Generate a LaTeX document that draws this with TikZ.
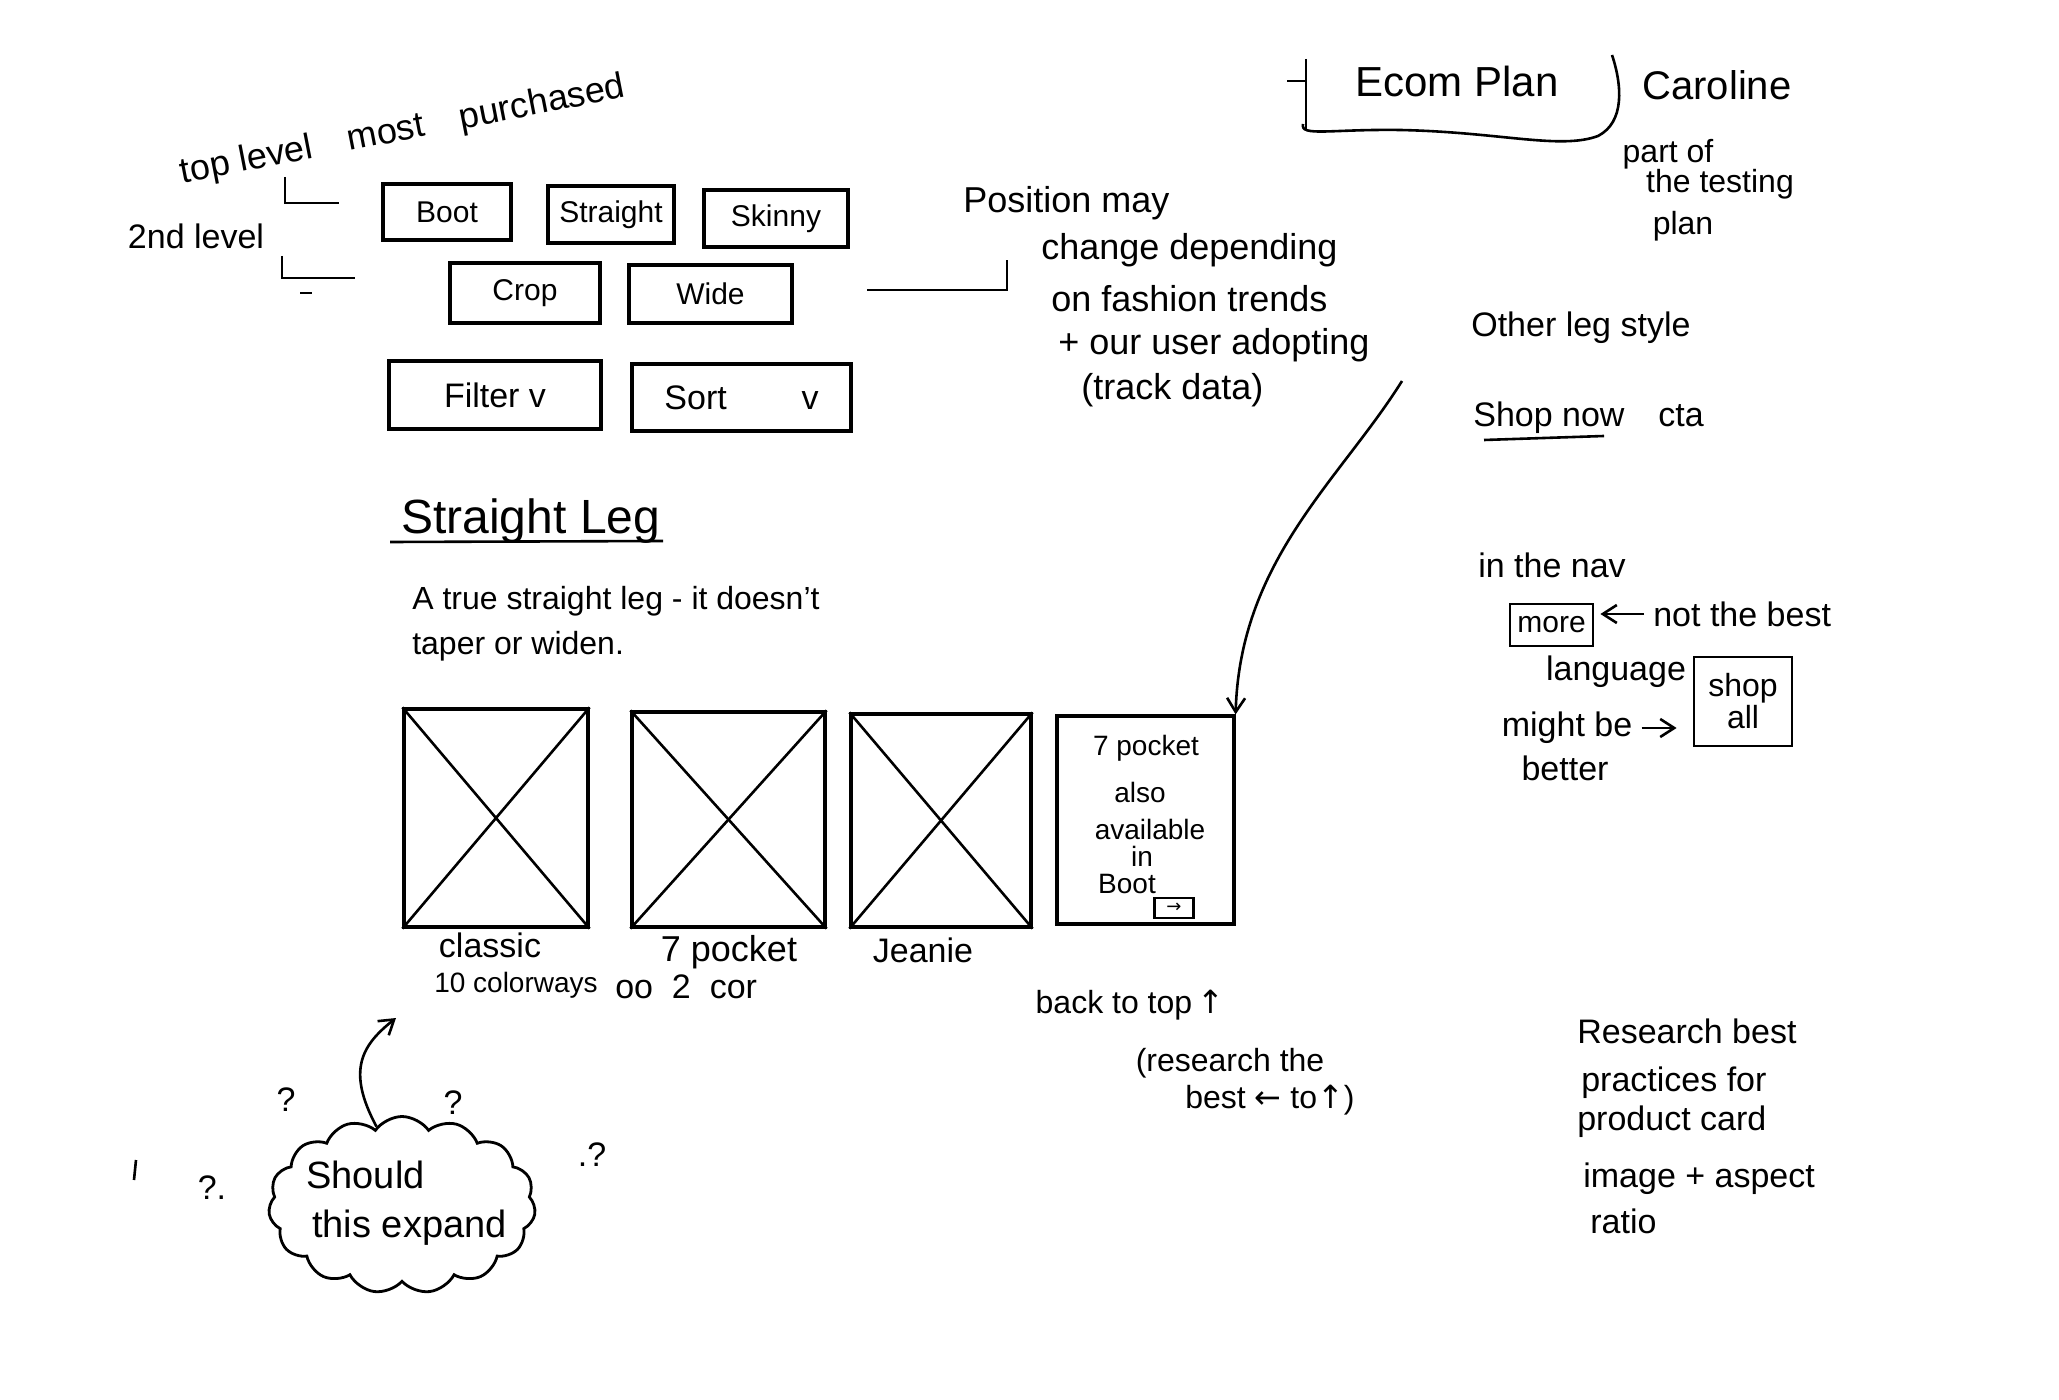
\documentclass[tikz,border=0pt]{standalone}
\usepackage{fontspec}
\setmainfont{Liberation Sans}
\newfontfamily\symf{DejaVu Sans}
\usetikzlibrary{shapes.symbols,arrows.meta}
\newcommand{\fs}[1]{\fontsize{#1}{#1}\selectfont}
\begin{document}
\begin{tikzpicture}[x=0.5pt,y=-0.5pt,line width=1.3pt,
  every node/.style={inner sep=0pt,font=\fs{17}},
  btn/.style={draw,line width=1.6pt,font=\fs{15}},
  img/.style={draw,line width=1.6pt},
  note/.style={anchor=west},
  tip/.style={-{Straight Barb[length=7pt,width=9pt]}}]
\useasboundingbox (0,0) rectangle (2059,1400);
\fill[white] (0,0) rectangle (2059,1400);

% top-left annotations
\node[rotate=11,font=\fs{18}] (toplevel) at (403,131) {top level\quad most\quad purchased};
\node (second) at (196,236) {2nd level};
\draw (285,177) |- (339,203);
\draw (282,256) |- (355,278);
\draw (300,293) -- (312,293);

% category buttons
\node[btn,minimum width=64pt,minimum height=28pt] (boot) at (447,212) {Boot};
\node[btn,minimum width=63pt,minimum height=28.5pt] (straight) at (611,214.5) {Straight};
\node[btn,minimum width=72pt,minimum height=28.5pt] (skinny) at (776,218.5) {Skinny};
\node[btn,minimum width=75pt,minimum height=30pt] (crop) at (525,293) {Crop};
\node[btn,minimum width=81.5pt,minimum height=29pt] (wide) at (710.5,294) {Wide};
\node[btn,minimum width=106pt,minimum height=34pt,font=\fs{17}] (filter) at (495,395) {Filter v};
\node[btn,minimum width=109.5pt,minimum height=33.5pt,font=\fs{17}] (sort) at (741.5,397.5) {Sort\hspace{2.2em}v};

% position note
\coordinate (wb1) at (867,290);
\coordinate (wb2) at (1007,260);
\draw (wb1) -| (wb2);
\node[note,font=\fs{18}] (pos1) at (962,203) {Position may};
\node[note,font=\fs{18}] (pos2) at (1040,250) {change depending};
\node[note,font=\fs{18}] (pos3) at (1050,299) {on fashion trends};
\node[note,font=\fs{18}] (pos4) at (1057,345) {+ our user adopting};
\node[note,font=\fs{18}] (pos5) at (1080,390) {(track data)};
\coordinate (arrstart) at (1402,381);

% Ecom plan
\node[font=\fs{21}] (ecom) at (1457,81) {Ecom Plan};
\coordinate (e1) at (1306,59);
\coordinate (e2) at (1306,131);
\draw (e1) -- (e2);
\draw (1287,81) -- (1306,81);
\draw (1303,124) .. controls (1300,137) and (1330,129) .. (1400,130)
      .. controls (1500,132) and (1560,150) .. (1598,136)
      .. controls (1625,122) and (1622,85) .. (1612,55);
\node[font=\fs{20}] (caroline) at (1717,85) {Caroline};
\node[font=\fs{16}] (part1) at (1668,154) {part of};
\node[font=\fs{16}] (part2) at (1720,184) {the testing};
\node[font=\fs{16}] (part3) at (1683,226) {plan};

% right notes
\node[note] (other) at (1470,328) {Other leg style};
\node[note] (shopnow) at (1472,418) {Shop now\quad cta};
\draw (1484,440) -- (1604,436);
\node[note] (nav) at (1477,565) {in the nav};
\node[draw,line width=1.4pt,minimum width=41.5pt,minimum height=21pt,font=\fs{15}] (more) at (1551.5,625) {more};
\node[note] (notbest) at (1652,614) {not the best};
\node (language) at (1616,672) {language};
\node (might) at (1567,728) {might be};
\node (better) at (1565,768) {better};
\node[draw,line width=1.4pt,minimum width=49pt,minimum height=44.5pt,align=center,font=\fs{16}] (shopall) at (1743,701.5) {shop\\all};
\draw[tip,shorten <=4pt,shorten >=3pt] (notbest.west) -- (notbest.west -| more.east);
\draw[tip,shorten <=4pt,shorten >=8pt] (might.east) -- (might.east -| shopall.west);

% section title
\node[note,font=\fs{24}] (title) at (400,521) {Straight Leg};
\draw (390,542) -- (663,541);
\node[note,font=\fs{16}] (desc1) at (411,601) {A true straight leg - it doesn't};
\node[note,font=\fs{16}] (desc2) at (411,646) {taper or widen.};

% product images
\node[img,minimum width=92pt,minimum height=109pt] (p1) at (496,818) {};
\node[img,minimum width=96.5pt,minimum height=107.5pt] (p2) at (728.5,819.5) {};
\node[img,minimum width=90pt,minimum height=106.5pt] (p3) at (941,820.5) {};
\foreach \p in {p1,p2,p3}{
  \draw (\p.north west) -- (\p.south east);
  \draw (\p.north east) -- (\p.south west);
}
\node[img,minimum width=88.5pt,minimum height=104pt] (card) at (1145.5,820) {};
\node[font=\fs{14}] (c1) at (1146,748) {7 pocket};
\node[font=\fs{14}] (c2) at (1140,792) {also};
\node[font=\fs{14}] (c3) at (1150,829) {available};
\node[font=\fs{14}] (c4) at (1142,856) {in};
\node[font=\fs{14}] (c5) at (1127,884) {Boot};
\node[draw,line width=1.1pt,minimum width=19.5pt,minimum height=10pt,font=\symf\fs{9}] (cbtn) at (1174,908) {→};
\draw[tip] (arrstart) .. controls (1340,480) and (1240,560) .. (card.north east);

% product labels
\node (l1) at (490,945) {classic};
\node[note,font=\fs{14}] (l2) at (433,985) {10 colorways};
\node[font=\fs{18}] (l3) at (729,952) {7 pocket};
\node[note] (l4) at (614,987) {oo\ \ 2\ \ cor};
\node (l5) at (923,950) {Jeanie};

% back to top
\node[font=\fs{16}] (back) at (1130,1005) {back to top\,{\symf ↑}};
\node[font=\fs{16}] (res1) at (1230,1063) {(research the};
\node[font=\fs{16}] (res2) at (1270,1100) {best {\symf ←} to{\symf ↑})};

% research note
\node[note] (r1) at (1576,1031) {Research best};
\node[note] (r2) at (1580,1083) {practices for};
\node[note] (r3) at (1576,1122) {product card};
\node[note] (r4) at (1582,1179) {image + aspect};
\node[note] (r5) at (1589,1221) {ratio};

% cloud
\node[cloud,draw,line width=1.4pt,cloud puffs=15,cloud puff arc=110,minimum width=133.5pt,minimum height=88.5pt] (cloud) at (402,1205) {};
\node[note,font=\fs{19}] (ct1) at (305,1175) {Should};
\node[note,font=\fs{19}] (ct2) at (311,1228) {this expand};
\draw[tip] (cloud.108) .. controls (346,1070) and (362,1045) .. (396,1018);
\node (q1) at (286,1100) {?};
\node (q2) at (453,1103) {?};
\node (q3) at (212,1188) {?.};
\node (q4) at (592,1155) {.?};
\draw (136,1160) -- (134,1180);
\end{tikzpicture}
\end{document}
